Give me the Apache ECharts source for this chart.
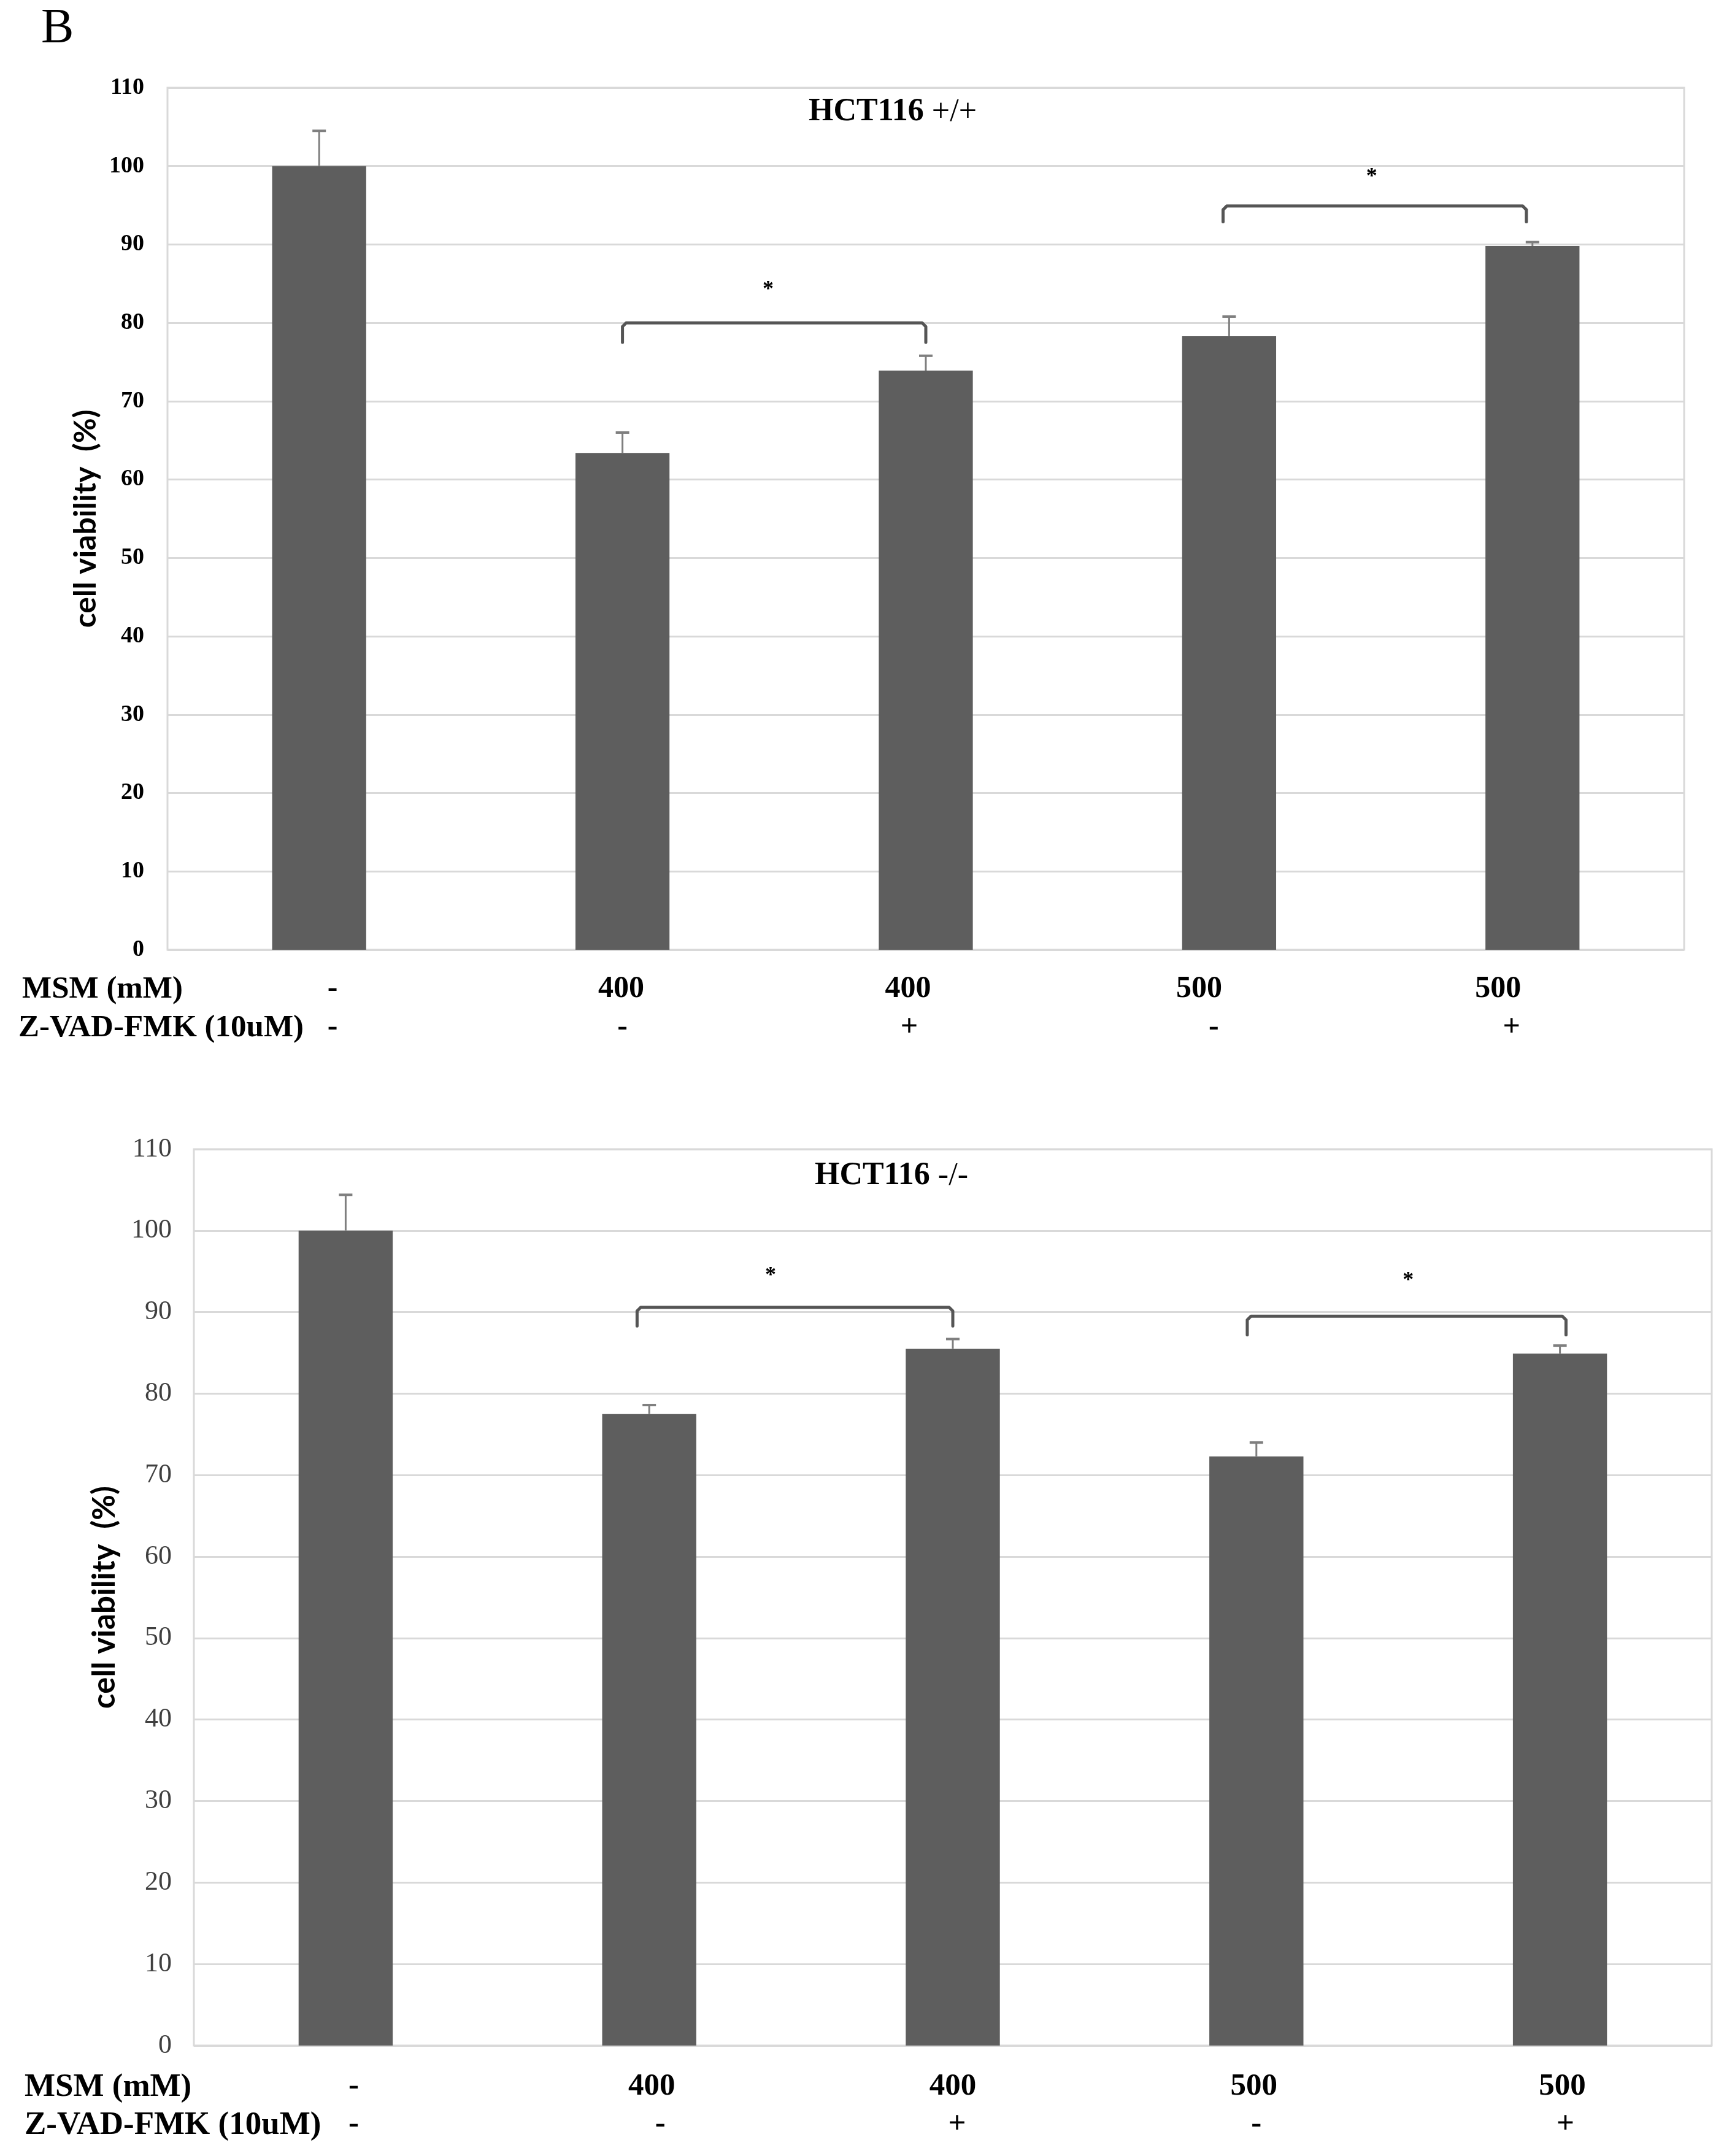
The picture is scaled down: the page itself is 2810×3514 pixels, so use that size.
<!DOCTYPE html>
<html><head><meta charset="utf-8">
<script src="https://cdn.jsdelivr.net/npm/echarts@6/dist/echarts.min.js"></script>
<style>html,body{margin:0;padding:0;background:#fff}#c{width:2810px;height:3514px}</style>
</head><body><div id="c"></div>
<script>
// ---------- data ----------
const categories = ['Control', 'MSM 400', 'MSM 400 + Z-VAD', 'MSM 500', 'MSM 500 + Z-VAD'];
const msmLabels = ['-', '400', '400', '500', '500'];
const zvadLabels = ['-', '-', '+', '-', '+'];
const rowLabels = ['MSM (mM)', 'Z-VAD-FMK (10uM)'];
const yMin = 0, yMax = 110, yStep = 10;

// HCT116 +/+
const wtTitle = ['HCT116', '+/+'];
const wtMeans = [100, 63.4, 73.9, 78.3, 89.8];
const wtErrors = [4.5, 2.6, 1.9, 2.5, 0.5];
const wtBracketFrom = [1.0, 2.98];
const wtBracketTo = [2.0, 3.98];
const wtBracketTop = [80.0, 94.9];
const wtBracketLeg = [77.5, 92.9];
const wtStarX = [1.48, 3.47];
const wtStarY = [84.6, 99.0];

// HCT116 -/-
const koTitle = ['HCT116', '-/-'];
const koMeans = [100, 77.5, 85.5, 72.3, 84.9];
const koErrors = [4.4, 1.1, 1.2, 1.7, 1.0];
const koBracketFrom = [0.96, 2.97];
const koBracketTo = [2.0, 4.02];
const koBracketTop = [90.6, 89.5];
const koBracketLeg = [88.3, 87.2];
const koStarX = [1.40, 3.50];
const koStarY = [94.8, 94.2];

// ---------- layout / style ----------
const SERIF = '"Liberation Serif", "Times New Roman", serif';
const SANS = 'Lato, "Liberation Sans", sans-serif';
const BAR = '#5e5e5e';
const GRIDC = '#d9d9d9';
const panels = [
  { grid: { left: 273, top: 143, right: 65, height: 1405 }, nameGap: 108, nameSize: 50,
    tick: { fontFamily: SERIF, fontWeight: 'bold', fontSize: 38, color: '#000', margin: 38 },
    catMargin: 33, catLH: 63, catSize: 50, rowSize: 51,
    msmOff: [22, -2, -29, -49, -56], zOff: [22, 0, -27, -25, -34],
    title: { x: 1455, y: 183 }, rows: [{ x: 36, y: 1613 }, { x: 30, y: 1676 }] },
  { grid: { left: 316, top: 1873, right: 20, height: 1461 }, nameGap: 120, nameSize: 51,
    tick: { fontFamily: SERIF, fontWeight: 'normal', fontSize: 44, color: '#404040', margin: 36 },
    catMargin: 36, catLH: 62, catSize: 51, rowSize: 53,
    msmOff: [13, 4, 0, -4, 4], zOff: [13, 18, 7, 0, 9],
    title: { x: 1453, y: 1917 }, rows: [{ x: 40, y: 3402 }, { x: 40, y: 3464 }] }
];
const panelData = [
  { title: wtTitle, means: wtMeans, errors: wtErrors, bf: wtBracketFrom, bt: wtBracketTo, btop: wtBracketTop, bleg: wtBracketLeg, sx: wtStarX, sy: wtStarY },
  { title: koTitle, means: koMeans, errors: koErrors, bf: koBracketFrom, bt: koBracketTo, btop: koBracketTop, bleg: koBracketLeg, sx: koStarX, sy: koStarY }
];

function padFor(d) { return d >= 0 ? [0, 0, 0, 2 * d] : [0, -2 * d, 0, 0]; }

function errorRender(params, api) {
  const p0 = api.coord([api.value(0), api.value(1)]);
  const p1 = api.coord([api.value(0), api.value(1) + api.value(2)]);
  const cap = 11;
  return { type: 'group', children: [
    { type: 'line', shape: { x1: p0[0], y1: p0[1], x2: p1[0], y2: p1[1] }, style: { stroke: '#7f7f7f', lineWidth: 3 } },
    { type: 'line', shape: { x1: p1[0] - cap, y1: p1[1], x2: p1[0] + cap, y2: p1[1] }, style: { stroke: '#7f7f7f', lineWidth: 4 } }
  ]};
}

function bracketRender(params, api) {
  const x0 = api.coord([0, 0])[0];
  const band = api.size([1, 0])[0];
  const fx = f => x0 + f * band;
  const yTop = api.coord([0, api.value(3)])[1];
  const yLeg = api.coord([0, api.value(4)])[1];
  const xa = fx(api.value(1)), xb = fx(api.value(2));
  const sx = fx(api.value(5)), sy = api.coord([0, api.value(6)])[1];
  return { type: 'group', children: [
    { type: 'polyline', shape: { points: [[xa, yLeg], [xa, yTop + 6], [xa + 6, yTop], [xb - 6, yTop], [xb, yTop + 6], [xb, yLeg]] },
      style: { stroke: '#555555', lineWidth: 5, fill: null, lineJoin: 'round', lineCap: 'round' } },
    { type: 'text', x: sx, y: sy + 5, style: { text: '*', font: 'bold 36px ' + SERIF, fill: '#000', align: 'center', verticalAlign: 'middle' } }
  ]};
}

const option = {
  backgroundColor: '#fff',
  animation: false,
  grid: [], xAxis: [], yAxis: [], series: [], graphic: []
};

option.graphic.push({ type: 'text', x: 67, y: 8, style: { text: 'B', font: 'normal 80px ' + SERIF, fill: '#000' } });

panels.forEach((p, k) => {
  const d = panelData[k];
  option.grid.push(Object.assign({ show: true, borderColor: GRIDC, borderWidth: 3, backgroundColor: 'transparent' }, p.grid));
  const rich = {};
  categories.forEach((c, i) => {
    rich['m' + i] = { fontFamily: SERIF, fontWeight: 'bold', fontSize: p.catSize, color: '#000', lineHeight: p.catLH, padding: padFor(p.msmOff[i]) };
    rich['z' + i] = { fontFamily: SERIF, fontWeight: 'bold', fontSize: p.catSize, color: '#000', lineHeight: p.catLH, padding: padFor(p.zOff[i]) };
  });
  option.xAxis.push({
    type: 'category', gridIndex: k, data: categories,
    axisTick: { show: false }, axisLine: { show: false },
    axisLabel: { interval: 0, margin: p.catMargin, rich: rich,
      formatter: (v, i) => '{m' + i + '|' + msmLabels[i] + '}\n{z' + i + '|' + zvadLabels[i] + '}' }
  });
  option.yAxis.push({
    type: 'value', gridIndex: k, min: yMin, max: yMax, interval: yStep,
    name: 'cell viability  (%)', nameLocation: 'middle', nameRotate: 90, nameGap: p.nameGap,
    nameTextStyle: { fontFamily: SANS, fontWeight: 'bold', fontSize: p.nameSize, color: '#000' },
    axisLine: { show: false }, axisTick: { show: false },
    axisLabel: p.tick,
    splitLine: { lineStyle: { color: GRIDC, width: 3 } }
  });
  option.series.push({
    type: 'bar', xAxisIndex: k, yAxisIndex: k, data: d.means, barWidth: '31%',
    itemStyle: { color: BAR }, silent: true
  });
  option.series.push({
    type: 'custom', xAxisIndex: k, yAxisIndex: k, renderItem: errorRender, z: 5,
    encode: { x: 0, y: 1 },
    data: d.means.map((m, i) => [i, m, d.errors[i]])
  });
  option.series.push({
    type: 'custom', xAxisIndex: k, yAxisIndex: k, renderItem: bracketRender, z: 6,
    encode: { x: 0, y: 3 },
    data: d.bf.map((f, i) => [0, f, d.bt[i], d.btop[i], d.bleg[i], d.sx[i], d.sy[i]])
  });
  option.graphic.push({ type: 'text', x: p.title.x, y: p.title.y, style: {
    text: '{b|' + d.title[0] + '\u00a0}{n|' + d.title[1] + '}', align: 'center', verticalAlign: 'middle',
    rich: { b: { fontFamily: SERIF, fontWeight: 'bold', fontSize: 52, fill: '#000' },
            n: { fontFamily: SERIF, fontWeight: 'normal', fontSize: 52, fill: '#000' } } } });
  rowLabels.forEach((t, r) => {
    option.graphic.push({ type: 'text', x: p.rows[r].x, y: p.rows[r].y, style: {
      text: t, font: 'bold ' + p.rowSize + 'px ' + SERIF, fill: '#000', align: 'left', verticalAlign: 'middle' } });
  });
});

const chart = echarts.init(document.getElementById('c'), null, { renderer: 'canvas', width: 2810, height: 3514 });
chart.setOption(option);
</script>
</body></html>
